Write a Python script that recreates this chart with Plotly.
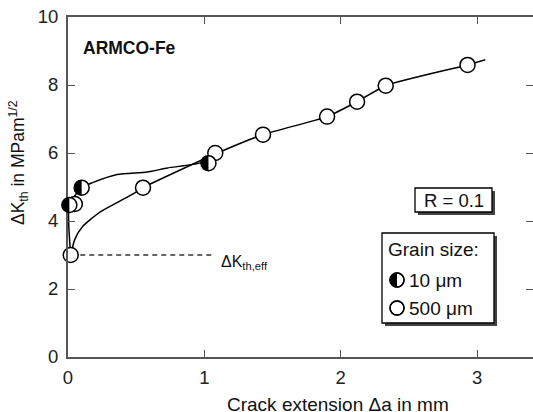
import numpy as np
import plotly.graph_objects as go

# ---------------- data ----------------
g500_x = [0.02, 0.05, 0.55, 1.08, 1.43, 1.90, 2.12, 2.33, 2.93]
g500_y = [3.00, 4.50, 4.98, 6.00, 6.54, 7.07, 7.51, 7.98, 8.59]

g10_x = [0.01, 0.10, 1.03]
g10_y = [4.47, 4.98, 5.70]

fit500_x = [0.02, 0.05, 0.11, 0.23, 0.36, 0.49, 0.55, 1.08, 1.43, 1.90, 2.12, 2.33, 2.93, 3.06]
fit500_y = [3.00, 3.46, 3.85, 4.25, 4.54, 4.83, 4.98, 5.97, 6.54, 7.07, 7.51, 7.98, 8.59, 8.74]

fit10_x = [0.02, 0.01, 0.10, 0.18, 0.36, 0.58, 0.73, 0.97, 1.08]
fit10_y = [3.00, 4.47, 4.98, 5.13, 5.37, 5.44, 5.56, 5.71, 5.97]

eff_x = [0.09, 1.08]
eff_y = [3.0, 3.0]

x_ticks = [0, 1, 2, 3]
y_ticks = [0, 2, 4, 6, 8, 10]

legend_labels = ["10 μm", "500 μm"]

# ---------------- layout geometry (pixels) ----------------
WIDTH, HEIGHT = 533, 412
PX0, PX1 = 68, 533      # plot area left/right
PY0, PY1 = 17, 357      # plot area top/bottom
PW, PH = PX1 - PX0, PY1 - PY0
XMAX, YMAX = 3.41, 10.0
sx = PW / XMAX
sy = PH / YMAX
EXTRA = 20  # px of room left of the y axis for markers that straddle it

FONT = "Liberation Sans, Arial, DejaVu Sans, sans-serif"


def pp(px, py):
    return px / WIDTH, 1 - py / HEIGHT


def half_disk(xs, ys, r, kx, ky):
    ox, oy = [], []
    t = np.linspace(np.pi / 2, 3 * np.pi / 2, 40)
    for xc, yc in zip(xs, ys):
        ox += list(xc + r * np.cos(t) / kx) + [None]
        oy += list(yc + r * np.sin(t) / ky) + [None]
    return ox, oy


fig = go.Figure()

# fitted curves
for fx, fy in [(fit500_x, fit500_y), (fit10_x, fit10_y)]:
    fig.add_trace(go.Scatter(x=fx, y=fy, mode="lines",
                             line=dict(color="black", width=1.5, shape="spline", smoothing=0.6),
                             hoverinfo="skip", showlegend=False))
# dashed effective threshold line
fig.add_trace(go.Scatter(x=eff_x, y=eff_y, mode="lines",
                         line=dict(color="#333", width=1.3, dash="5px,4px"),
                         hoverinfo="skip", showlegend=False))

MS = 15
fig.add_trace(go.Scatter(x=g500_x, y=g500_y, mode="markers", cliponaxis=False,
                         marker=dict(symbol="circle", size=MS, color="white",
                                     line=dict(color="black", width=1.5)),
                         showlegend=False))

# 10 um half-filled markers on a twin subplot with extra room left of the axis
fig.add_trace(go.Scatter(x=g10_x, y=g10_y, mode="markers", xaxis="x2", yaxis="y2",
                         cliponaxis=False,
                         marker=dict(symbol="circle", size=MS, color="white",
                                     line=dict(color="black", width=0)),
                         showlegend=False, hoverinfo="skip"))
hx, hy = half_disk(g10_x, g10_y, MS / 2, sx, sy)
fig.add_trace(go.Scatter(x=hx, y=hy, mode="lines", fill="toself", xaxis="x2", yaxis="y2",
                         fillcolor="black", line=dict(width=0, color="black"),
                         hoverinfo="skip", showlegend=False))
fig.add_trace(go.Scatter(x=g10_x, y=g10_y, mode="markers", xaxis="x2", yaxis="y2",
                         cliponaxis=False,
                         marker=dict(symbol="circle-open", size=MS, color="black",
                                     line=dict(color="black", width=1.5)),
                         showlegend=False))

# legend symbols on a pixel-space overlay subplot
LS = 14
leg_x = [397, 397]
leg_y = [280, 308]
fig.add_trace(go.Scatter(x=leg_x, y=leg_y, mode="markers", xaxis="x3", yaxis="y3",
                         marker=dict(symbol="circle", size=LS, color="white",
                                     line=dict(color="black", width=1.4)),
                         showlegend=False, hoverinfo="skip"))
lx, ly = half_disk(leg_x[:1], leg_y[:1], LS / 2, 1, -1)
fig.add_trace(go.Scatter(x=lx, y=ly, mode="lines", fill="toself", xaxis="x3", yaxis="y3",
                         fillcolor="black", line=dict(width=0, color="black"),
                         hoverinfo="skip", showlegend=False))
fig.add_trace(go.Scatter(x=leg_x, y=leg_y, mode="markers", xaxis="x3", yaxis="y3",
                         marker=dict(symbol="circle-open", size=LS, color="black",
                                     line=dict(color="black", width=1.4)),
                         showlegend=False, hoverinfo="skip"))

axis_common = dict(showline=True, linecolor="#555", linewidth=2, mirror="ticks",
                   ticks="inside", ticklen=7, tickwidth=1.3, tickcolor="#555",
                   showgrid=False, zeroline=False, automargin=False,
                   tickfont=dict(family=FONT, size=18.5, color="#222"))

dom_x = [PX0 / WIDTH, PX1 / WIDTH]
dom_y = [1 - PY1 / HEIGHT, 1 - PY0 / HEIGHT]
hidden = dict(visible=False, showgrid=False, zeroline=False, fixedrange=True)

fig.update_layout(
    width=WIDTH, height=HEIGHT,
    margin=dict(l=0, r=0, t=0, b=0),
    paper_bgcolor="white", plot_bgcolor="rgba(0,0,0,0)",
    xaxis=dict(domain=dom_x, range=[0, XMAX], tickvals=x_ticks, ticklabelstandoff=3,
               anchor="y", **axis_common),
    yaxis=dict(domain=dom_y, range=[0, YMAX], tickvals=y_ticks, ticklabelstandoff=4,
               anchor="x", **axis_common),
    xaxis2=dict(domain=[(PX0 - EXTRA) / WIDTH, PX1 / WIDTH], range=[-EXTRA / sx, XMAX],
                anchor="y2", **hidden),
    yaxis2=dict(domain=dom_y, range=[0, YMAX], anchor="x2", **hidden),
    xaxis3=dict(domain=[0, 1], range=[0, WIDTH], anchor="y3", **hidden),
    yaxis3=dict(domain=[0, 1], range=[HEIGHT, 0], anchor="x3", **hidden),
    showlegend=False,
)

shapes = []
annotations = []


def box(x0, y0, x1, y1):
    d0, e1 = pp(x0 + 3, y0 + 3)
    d1, e0 = pp(x1 + 3, y1 + 3)
    a0, b1 = pp(x0, y0)
    a1, b0 = pp(x1, y1)
    shapes.append(dict(type="rect", xref="paper", yref="paper", x0=d0, x1=d1, y0=e0, y1=e1,
                       fillcolor="#444", line=dict(width=0), layer="below"))
    shapes.append(dict(type="rect", xref="paper", yref="paper", x0=a0, x1=a1, y0=b0, y1=b1,
                       fillcolor="white", line=dict(color="black", width=1.3), layer="below"))


box(415, 188, 492, 212)
box(382, 233, 494, 323)


def label(px, py, text, size=17, bold=False, xanchor="center", angle=0):
    xp, yp = pp(px, py)
    if bold:
        text = "<b>" + text + "</b>"
    annotations.append(dict(x=xp, y=yp, xref="paper", yref="paper", text=text,
                            showarrow=False, xanchor=xanchor, yanchor="middle",
                            textangle=angle,
                            font=dict(family=FONT, size=size, color="#111")))


label(81, 48, "ARMCO-Fe", size=17.5, bold=True, xanchor="left")
label(454, 200, "R = 0.1", size=18.5)
label(386, 250, "Grain size:", size=19, xanchor="left")
label(407, 280, legend_labels[0], size=19, xanchor="left")
label(407, 308, legend_labels[1], size=19, xanchor="left")
label(219, 262, "ΔK<sub>th,eff</sub>", size=16, xanchor="left")
label(338, 404, "Crack extension Δa in mm", size=19)
label(19, 163, "ΔK<sub>th</sub> in MPam<sup>1/2</sup>", size=17.5, angle=-90)

fig.update_layout(shapes=shapes, annotations=annotations)

fig.write_html("out.html")
